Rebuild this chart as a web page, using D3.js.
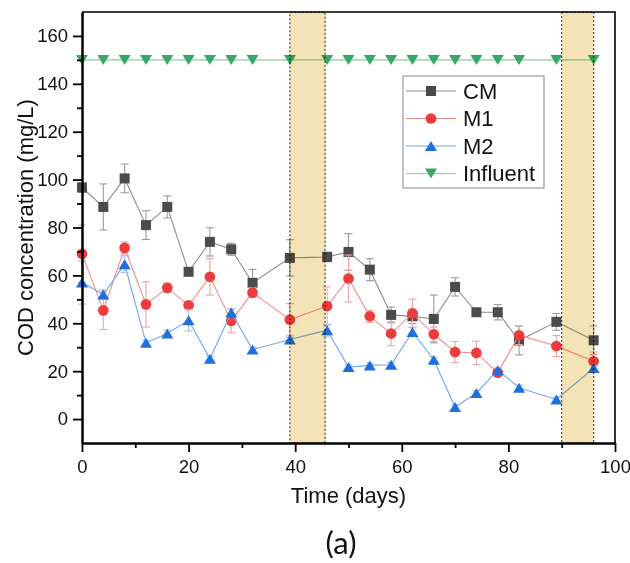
<!DOCTYPE html>
<html>
<head>
<meta charset="utf-8">
<script src="https://cdn.jsdelivr.net/npm/d3@7"></script>
<style>
  body { margin: 0; background: #fff; }
  svg { display: block; font-family: "Liberation Sans", Arial, sans-serif; }
</style>
</head>
<body>
<svg id="chart"></svg>
<script>
// sampling days (same for every series)
const days = [0, 4, 8, 12, 16, 20, 24, 28, 32, 39, 46, 50, 54, 58, 62, 66, 70, 74, 78, 82, 89, 96];

const cmValues = [96.7, 88.6, 100.5, 81.0, 88.6, 61.5, 74.0, 70.9, 56.9, 67.3, 67.7, 69.8, 62.4, 43.5, 42.9, 41.8, 55.2, 44.6, 44.6, 32.8, 40.6, 32.9];
const cmErrors = [2, 9.6, 6, 6, 4.6, 1.5, 5.9, 2.5, 5.6, 7.6, 2, 7.6, 4.6, 3.3, 3, 10, 3.8, 1, 3.2, 6, 3.5, 6];

const m1Values = [69, 45.4, 71.5, 47.9, 54.8, 47.5, 59.4, 41.0, 52.8, 41.5, 47.2, 58.7, 42.9, 35.7, 44.1, 35.4, 28.0, 27.6, 19.4, 35.0, 30.5, 24.1];
const m1Errors = [12, 8, 2.5, 9.5, 2, 1.5, 7.6, 5, 2, 6.7, 8, 9.8, 2.5, 5, 6, 3, 4.4, 4.9, 1.5, 3.9, 4.4, 3.9];

const m2Values = [57, 52.0, 64.7, 31.9, 35.7, 41.3, 25.2, 44.5, 29.0, 33.2, 37.1, 21.7, 22.4, 22.7, 36.4, 24.8, 5.0, 10.9, 20.4, 13.1, 8.2, 21.3];
const m2Errors = [9, 2, 3.5, 1, 1.5, 4.5, 1, 1.5, 1, 1, 2.5, 1, 1, 1, 2, 1, 1, 1, 1, 1, 1, 1];

const influentValues = [150, 150, 150, 150, 150, 150, 150, 150, 150, 150, 150, 150, 150, 150, 150, 150, 150, 150, 150, 150, 150, 150];

// shaded periods [start, end] in days
const shadedPeriods = [[39, 45.6], [90, 96]];

const xTicks = [0, 20, 40, 60, 80, 100];
const xMinorTicks = [10, 30, 50, 70, 90];
const yTicks = [0, 20, 40, 60, 80, 100, 120, 140, 160];
const yMinorTicks = [10, 30, 50, 70, 90, 110, 130, 150];

const series = [
  { name: "CM", values: cmValues, errors: cmErrors, shape: "square", fill: "#4b4b4b", line: "#8e8e8e", err: "#9a9a9a" },
  { name: "M1", values: m1Values, errors: m1Errors, shape: "circle", fill: "#ee3b3b", line: "#f28a8a", err: "#f4a3a3" },
  { name: "M2", values: m2Values, errors: m2Errors, shape: "up", fill: "#1f6fdc", line: "#72a6ee", err: "#9cc0f2" },
  { name: "Influent", values: influentValues, errors: null, shape: "down", fill: "#38a963", line: "#86cf9f", err: null }
];

const width = 630, height = 563;
const margin = { top: 12, right: 15, bottom: 120, left: 82 };

const svg = d3.select("#chart").attr("width", width).attr("height", height);

const x = d3.scaleLinear().domain([0, 100]).range([margin.left, width - margin.right]);
const y = d3.scaleLinear().domain([-10, 170]).range([height - margin.bottom, margin.top]);

function markerPath(shape) {
  if (shape === "square") return "M-5,-5H5V5H-5Z";
  if (shape === "circle") return d3.symbol(d3.symbolCircle, 90)();
  if (shape === "up") return "M0,-5L6,5L-6,5Z";
  return "M0,5L6,-5L-6,-5Z";
}

// top and right frame
svg.append("path")
  .attr("d", `M${x(0)},${y(170)}H${x(100)}V${y(-10)}`)
  .attr("fill", "none")
  .attr("stroke", "#000")
  .attr("stroke-width", 1.6);

// data
series.forEach(s => {
  const g = svg.append("g");

  g.append("path")
    .datum(days)
    .attr("fill", "none")
    .attr("stroke", s.line)
    .attr("stroke-width", 1.1)
    .attr("d", d3.line().x(d => x(d)).y((d, i) => y(s.values[i])));

  if (s.errors) {
    const eb = g.selectAll(".err").data(days).enter().append("g")
      .attr("stroke", s.err)
      .attr("stroke-width", 1.1);
    eb.append("line")
      .attr("x1", d => x(d)).attr("x2", d => x(d))
      .attr("y1", (d, i) => y(s.values[i] - s.errors[i]))
      .attr("y2", (d, i) => y(s.values[i] + s.errors[i]));
    [-1, 1].forEach(sign => {
      eb.append("line")
        .attr("x1", d => x(d) - 4).attr("x2", d => x(d) + 4)
        .attr("y1", (d, i) => y(s.values[i] + sign * s.errors[i]))
        .attr("y2", (d, i) => y(s.values[i] + sign * s.errors[i]));
    });
  }

  g.selectAll(".mark").data(days).enter().append("path")
    .attr("transform", (d, i) => `translate(${x(d)},${y(s.values[i])})`)
    .attr("d", markerPath(s.shape))
    .attr("fill", s.fill);
});

// shaded periods, multiplied over the data
svg.selectAll(".shade").data(shadedPeriods).enter().append("rect")
  .attr("x", d => x(d[0]))
  .attr("width", d => x(d[1]) - x(d[0]))
  .attr("y", y(170))
  .attr("height", y(-10) - y(170))
  .attr("fill", "#f5e3b8")
  .attr("stroke", "#222")
  .attr("stroke-width", 1)
  .attr("stroke-dasharray", "2,2")
  .style("mix-blend-mode", "multiply");

// axes
const xAxis = svg.append("g")
  .attr("transform", `translate(0,${y(-10)})`)
  .call(d3.axisBottom(x).tickValues(xTicks).tickSize(9).tickPadding(8).tickSizeOuter(0));
svg.append("g")
  .attr("transform", `translate(0,${y(-10)})`)
  .call(d3.axisBottom(x).tickValues(xMinorTicks).tickSize(5).tickFormat("").tickSizeOuter(0));

const yAxis = svg.append("g")
  .attr("transform", `translate(${x(0)},0)`)
  .call(d3.axisLeft(y).tickValues(yTicks).tickSize(9).tickPadding(5).tickSizeOuter(0));
svg.append("g")
  .attr("transform", `translate(${x(0)},0)`)
  .call(d3.axisLeft(y).tickValues(yMinorTicks).tickSize(5).tickFormat("").tickSizeOuter(0));

svg.selectAll(".domain").attr("stroke", "#000").attr("stroke-width", 2);
svg.selectAll(".tick line").attr("stroke", "#000").attr("stroke-width", 1.8);
svg.selectAll(".tick text")
  .attr("fill", "#111")
  .style("font-family", "'Liberation Sans', Arial, sans-serif")
  .style("font-size", "18.5px");

// axis titles
svg.append("text")
  .attr("transform", `translate(25,${(y(170) + y(-10)) / 2}) rotate(-90)`)
  .attr("dy", "0.35em")
  .attr("text-anchor", "middle")
  .style("font-size", "22px")
  .attr("fill", "#111")
  .text("COD concentration (mg/L)");

svg.append("text")
  .attr("x", (x(0) + x(100)) / 2)
  .attr("y", 503)
  .attr("text-anchor", "middle")
  .style("font-size", "22px")
  .attr("fill", "#111")
  .text("Time (days)");

svg.append("text")
  .attr("x", 341)
  .attr("y", 554)
  .attr("text-anchor", "middle")
  .style("font-family", "Lato, 'Open Sans', sans-serif")
  .style("font-size", "31px")
  .attr("fill", "#111")
  .text("(a)");

// legend
const legend = svg.append("g").attr("transform", "translate(403,76)");
legend.append("rect")
  .attr("width", 141).attr("height", 112)
  .attr("fill", "#fff")
  .attr("stroke", "#888")
  .attr("stroke-width", 1);

const item = legend.selectAll(".item").data(series).enter().append("g")
  .attr("transform", (d, i) => `translate(0,${15 + i * 27.5})`);
item.append("line")
  .attr("x1", 3).attr("x2", 53)
  .attr("stroke", d => d.line)
  .attr("stroke-width", 1.1);
item.append("path")
  .attr("transform", "translate(28,0)")
  .attr("d", d => markerPath(d.shape))
  .attr("fill", d => d.fill);
item.append("text")
  .attr("x", 60)
  .attr("dy", "0.35em")
  .style("font-size", "22px")
  .attr("fill", "#111")
  .text(d => d.name);
</script>
</body>
</html>
